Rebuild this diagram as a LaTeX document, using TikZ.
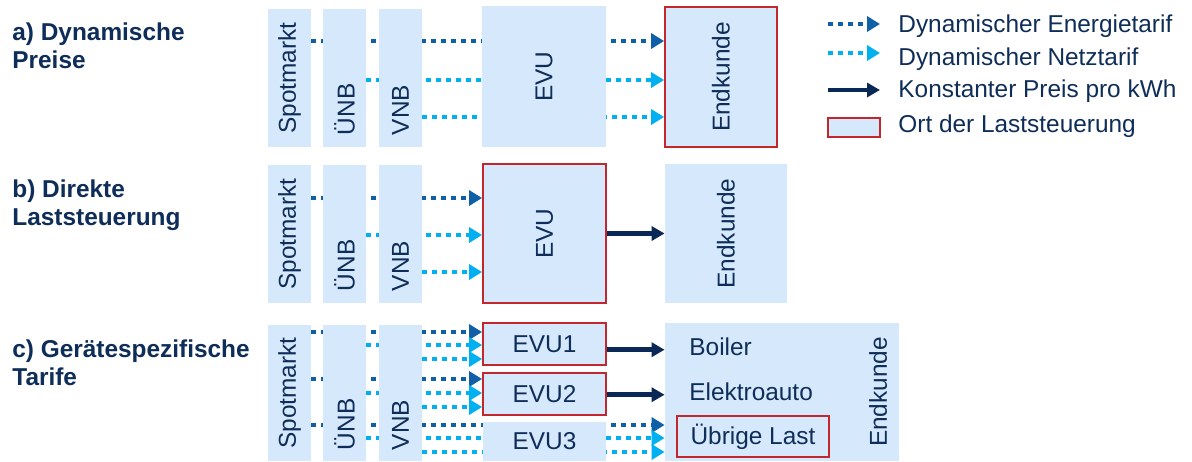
\documentclass[tikz,border=0pt]{standalone}
\usepackage{fontspec}
\setmainfont{Liberation Sans}
\usetikzlibrary{arrows.meta,positioning,backgrounds}
\definecolor{boxblue}{RGB}{214,233,252}
\definecolor{textnavy}{RGB}{14,45,88}
\definecolor{energyblue}{RGB}{16,96,168}
\definecolor{netzblue}{RGB}{0,176,240}
\definecolor{constnavy}{RGB}{10,40,85}
\definecolor{ctrlred}{RGB}{192,40,45}

\begin{document}
\begin{tikzpicture}[
  x=0.5pt, y=-0.5pt,
  every node/.style={font=\fontsize{12.2}{14}\selectfont, text=textnavy},
  box/.style 2 args={rectangle, fill=boxblue, draw=none, minimum width=#1*0.5pt, minimum height=#2*0.5pt, inner sep=0pt},
  ctrl/.style={draw=ctrlred, line width=0.9pt},
  vtext/.style={rotate=90, inner sep=0pt},
  title/.style={anchor=north west, align=left, inner sep=0pt, font=\fontsize{12.2}{14}\selectfont\bfseries},
  plain/.style={anchor=base west, inner sep=0pt},
  energy/.style={draw=energyblue, line width=2.2pt, dash pattern=on 2.5pt off 2.5pt, -{Triangle[length=6.5pt,width=7.5pt]}},
  netz/.style={energy, draw=netzblue},
  const/.style={draw=constnavy, line width=2.4pt, -{Triangle[length=6.5pt,width=7pt]}},
]
\useasboundingbox (0,0) rectangle (1192,461);

% a) Dynamische Preise
\node[title] (titleA) at (12,22.5) {a) Dynamische\\Preise};
\node[box={43}{138}, label={[vtext]center:Spotmarkt}] (spotA) at (289.5,78) {};
\node[box={43}{138}] (uenbA) at (344.5,78) {};
\node[box={43}{138}] (vnbA) at (400.5,78) {};
\node[vtext, anchor=west] (uenbAtext) at ([yshift=6pt]uenbA.south) {ÜNB};
\node[vtext, anchor=west] (vnbAtext) at ([yshift=6pt]vnbA.south) {VNB};
\node[box={124}{141}, label={[vtext]center:EVU}] (evuA) at (544,76.5) {};
\node[box={112}{140}, ctrl, label={[vtext]center:Endkunde}] (endA) at (721,77) {};
\coordinate (rowA1) at (0,41);
\coordinate (rowA2) at (0,80);
\coordinate (rowA3) at (0,117);
\begin{scope}[on background layer]
  \draw[energy] (spotA.east |- rowA1) -- (endA.west |- rowA1);
  \draw[netz] (uenbA.east |- rowA2) -- (endA.west |- rowA2);
  \draw[netz] (vnbA.east |- rowA3) -- (endA.west |- rowA3);
\end{scope}

% b) Direkte Laststeuerung
\node[title] (titleB) at (12,179.5) {b) Direkte\\Laststeuerung};
\node[box={43}{138}, label={[vtext]center:Spotmarkt}] (spotB) at (289.5,234) {};
\node[box={43}{138}] (uenbB) at (344.5,234) {};
\node[box={43}{138}] (vnbB) at (400.5,234) {};
\node[vtext, anchor=west] (uenbBtext) at ([yshift=6pt]uenbB.south) {ÜNB};
\node[vtext, anchor=west] (vnbBtext) at ([yshift=6pt]vnbB.south) {VNB};
\node[box={123}{139}, ctrl, label={[vtext]center:EVU}] (evuB) at (544.5,233.5) {};
\node[box={122}{139}, label={[vtext]center:Endkunde}] (endB) at (726,233.5) {};
\coordinate (rowB1) at (0,198);
\coordinate (rowB2) at (0,235);
\coordinate (rowB3) at (0,272);
\begin{scope}[on background layer]
  \draw[energy] (spotB.east |- rowB1) -- (evuB.west |- rowB1);
  \draw[netz] (uenbB.east |- rowB2) -- (evuB.west |- rowB2);
  \draw[netz] (vnbB.east |- rowB3) -- (evuB.west |- rowB3);
\end{scope}
\draw[const] (evuB.east) -- (endB.west);

% c) Geraetespezifische Tarife
\node[title] (titleC) at (12,339.5) {c) Gerätespezifische\\Tarife};
\node[box={43}{136}, label={[vtext]center:Spotmarkt}] (spotC) at (289.5,393) {};
\node[box={43}{136}] (uenbC) at (344.5,393) {};
\node[box={43}{136}] (vnbC) at (400.5,393) {};
\node[vtext, anchor=west] (uenbCtext) at ([yshift=5.5pt]uenbC.south) {ÜNB};
\node[vtext, anchor=west] (vnbCtext) at ([yshift=5.5pt]vnbC.south) {VNB};
\node[box={123}{42}, ctrl] (evu1) at (544.5,344) {EVU1};
\node[box={123}{42}, ctrl] (evu2) at (544.5,394) {EVU2};
\node[box={123}{39}] (evu3) at (544.5,441.5) {EVU3};
\node[box={234}{138}] (endC) at (782,392) {};
\node[vtext, anchor=south] (endCtext) at ([xshift=-6pt]endC.east) {Endkunde};
\node[plain] (boiler) at (689,355) {Boiler};
\node[plain] (eauto) at (689,400) {Elektroauto};
\node[box={152}{41}, ctrl] (uebrig) at (753,436.5) {Übrige Last};
\coordinate (rowC1) at (0,332);
\coordinate (rowC2) at (0,345);
\coordinate (rowC3) at (0,359);
\coordinate (rowC4) at (0,379);
\coordinate (rowC5) at (0,393);
\coordinate (rowC6) at (0,407);
\coordinate (rowC7) at (0,425);
\coordinate (rowC8) at (0,438);
\coordinate (rowC9) at (0,452);
\begin{scope}[on background layer]
  \draw[energy] (spotC.east |- rowC1) -- (evu1.west |- rowC1);
  \draw[netz] (uenbC.east |- rowC2) -- (evu1.west |- rowC2);
  \draw[netz] (vnbC.east |- rowC3) -- (evu1.west |- rowC3);
  \draw[energy] (spotC.east |- rowC4) -- (evu2.west |- rowC4);
  \draw[netz] (uenbC.east |- rowC5) -- (evu2.west |- rowC5);
  \draw[netz] (vnbC.east |- rowC6) -- (evu2.west |- rowC6);
  \draw[energy] (spotC.east |- rowC7) -- (endC.west |- rowC7);
  \draw[netz] (uenbC.east |- rowC8) -- (endC.west |- rowC8);
  \draw[netz] (vnbC.east |- rowC9) -- (endC.west |- rowC9);
\end{scope}
\draw[const] (evu1.east |- boiler.mid) -- (endC.west |- boiler.mid);
\draw[const] (evu2.east |- eauto.mid) -- (endC.west |- eauto.mid);

% Legende
\coordinate (legE1) at (828,24);
\coordinate (legE2) at (880,24);
\coordinate (legN1) at (828,53);
\coordinate (legN2) at (880,53);
\coordinate (legK1) at (828,90);
\coordinate (legK2) at (880,90);
\draw[energy] (legE1) -- (legE2);
\draw[netz] (legN1) -- (legN2);
\draw[const] (legK1) -- (legK2);
\node[box={52}{19}, ctrl] (legCtrl) at (854,127.5) {};
\node[plain] (legEtext) at (898,32) {Dynamischer Energietarif};
\node[plain] (legNtext) at (898,65) {Dynamischer Netztarif};
\node[plain] (legKtext) at (898,97) {Konstanter Preis pro kWh};
\node[plain] (legCtext) at (898,132) {Ort der Laststeuerung};

\end{tikzpicture}
\end{document}
